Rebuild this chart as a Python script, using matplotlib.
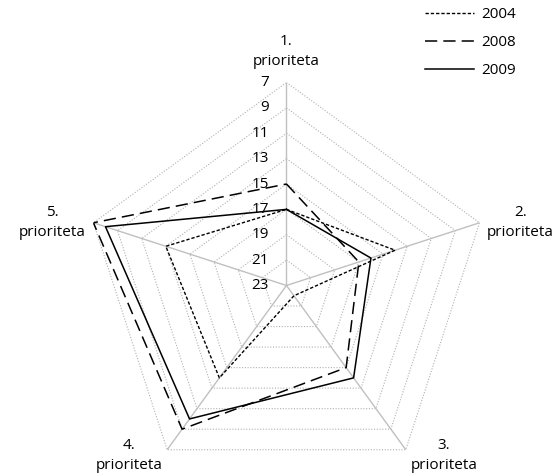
import numpy as np
import matplotlib.pyplot as plt

plt.rcParams['font.family'] = ['Open Sans', 'DejaVu Sans']
plt.rcParams['font.size'] = 11

categories = ['1.\nprioriteta', '2.\nprioriteta', '3.\nprioriteta',
              '4.\nprioriteta', '5.\nprioriteta']
years = ['2004', '2008', '2009']
vals_2004 = [17, 14, 22, 14, 13]
vals_2008 = [15, 17, 15, 9, 7]
vals_2009 = [17, 16, 14, 10, 8]
ticks = [7, 9, 11, 13, 15, 17, 19, 21, 23]

fig = plt.figure(figsize=(5.58, 4.75), dpi=100)
# centre of the web at about (286, 285) px, outer radius about 203 px
ax = fig.add_axes([0.1496, -0.0284, 0.7276, 0.8547], projection='polar')
ax.set_theta_offset(np.pi / 2)
ax.set_theta_direction(-1)
ax.set_ylim(ticks[-1], ticks[0])
ax.grid(False)
ax.set_xticks([])
ax.set_yticks([])
ax.spines['polar'].set_visible(False)
ax.patch.set_visible(False)

n = len(categories)
angles = np.linspace(0, 2 * np.pi, n, endpoint=False)
closed = np.append(angles, angles[0])

# pentagon grid
for t in ticks[:-1]:
    ax.plot(closed, [t] * (n + 1), color='#b0b0b0', lw=0.8,
            ls=(0, (1, 1.5)), zorder=1)
for a in angles:
    ax.plot([a, a], [ticks[-1], ticks[0]], color='#c0c0c0', lw=1.0, zorder=1)

# radial tick labels left of the top spoke
for t in ticks:
    ax.annotate(str(t), xy=(0, t), xytext=(-12.5, 0), textcoords='offset points',
                ha='right', va='center')

# category labels
offsets = [(0, 22.5), (29.5, 0), (27.5, -4), (-27.5, -4), (-29.5, 0)]
for a, lab, off in zip(angles, categories, offsets):
    ax.annotate(lab, xy=(a, ticks[0]), xytext=off, textcoords='offset points',
                ha='center', va='center', multialignment='center',
                linespacing=1.45, annotation_clip=False)

series = [vals_2004, vals_2008, vals_2009]
styles = [dict(ls=(0, (2.4, 1.4)), lw=1.0),
          dict(ls=(0, (8, 4)), lw=1.1),
          dict(ls='-', lw=1.1)]
handles = []
for yr, vals, st in zip(years, series, styles):
    line, = ax.plot(closed, vals + vals[:1], color='black', label=yr, zorder=3, **st)
    handles.append(line)

fig.legend(handles=handles, loc='upper left',
           bbox_to_anchor=(425 / 558, 1 - 7 / 475), frameon=False,
           borderpad=0, borderaxespad=0, handlelength=3.2,
           handletextpad=0.5, labelspacing=0.85)

fig.savefig('out.png', dpi=100)
